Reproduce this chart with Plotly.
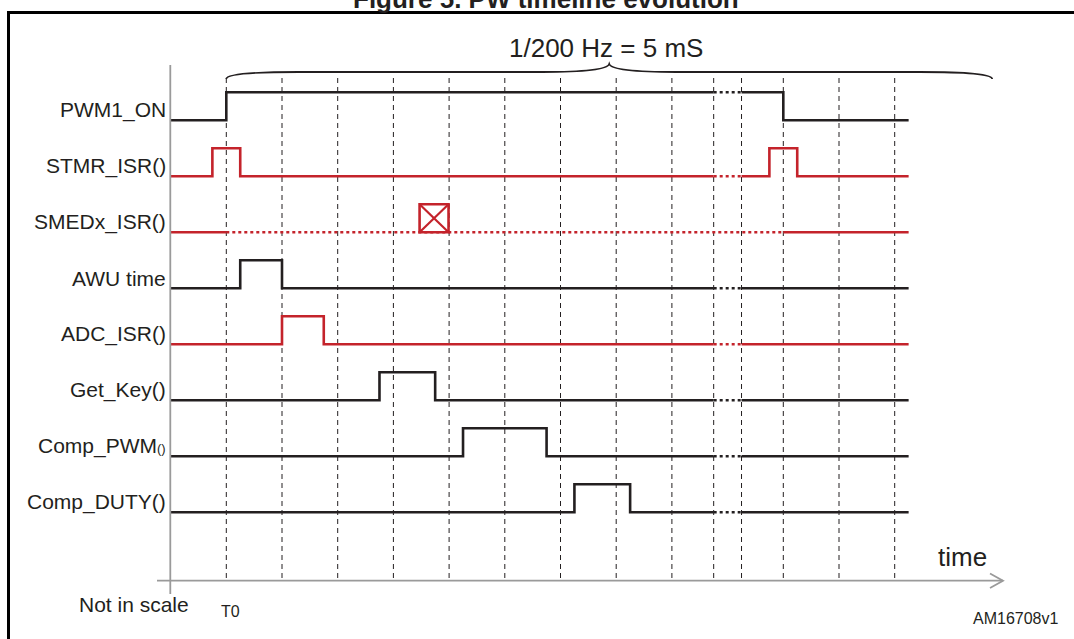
import plotly.graph_objects as go

# ---------------- data ----------------
signal_names = ["PWM1_ON", "STMR_ISR()", "SMEDx_ISR()", "AWU time",
                "ADC_ISR()", "Get_Key()", "Comp_PWM()", "Comp_DUTY()"]
signal_labels = ["PWM1_ON", "STMR_ISR()", "SMEDx_ISR()", "AWU time",
                 "ADC_ISR()", "Get_Key()",
                 "Comp_PWM<span style='font-size:13px'>()</span>", "Comp_DUTY()"]
signal_is_red = [False, True, True, False, True, False, False, False]
initial_level = [0, 0, 0, 0, 0, 0, 0, 0]

# edge times (units of one grid step, T0 = 0)
edges_pwm1 = [0, 10]
edges_stmr = [-0.25, 0.25, 9.75, 10.25]
edges_smed = []
edges_awu = [0.25, 1.0]
edges_adc = [1.0, 1.75]
edges_getkey = [2.75, 3.75]
edges_comppwm = [4.25, 5.75]
edges_compduty = [6.25, 7.25]
all_edges = [edges_pwm1, edges_stmr, edges_smed, edges_awu, edges_adc,
             edges_getkey, edges_comppwm, edges_compduty]

t_start = -1.0
t_end = 12.25
break_start, break_end = 8.75, 9.25          # "not in scale" dotted gap
smed_idle_start, smed_idle_end = 0.0, 10.0    # SMEDx dotted (waiting) span
smed_event_start, smed_event_end = 3.47, 3.99 # SMEDx interrupt marker

grid_times = [0, 1, 2, 3, 4, 5, 6, 7, 8, 8.75, 9.25, 10, 11, 12]
brace_start, brace_end = 0.0, 13.75

# ---------------- geometry / style ----------------
W, H = 1074, 639
PX_T0, PX_STEP = 226.3, 55.7
ROW0_PX, ROW_PX = 120.3, 56.0
HIGH = 0.5  # pulse height in row units

RED = "#c4232b"
BLACK = "#231f20"
GRAY = "#9a9a9a"
FONT = "Liberation Sans, Arial, Helvetica, sans-serif"

def xpx(p):  # pixel -> data x
    return (p - PX_T0) / PX_STEP

def ypx(p):  # pixel -> data y
    return (ROW0_PX - p) / ROW_PX

x_range = [xpx(0), xpx(W)]
y_range = [ypx(H), ypx(0)]

fig = go.Figure()

def level_at(edges, init, t):
    n = sum(1 for e in edges if e <= t)
    return (init + n) % 2

def seg_points(edges, init, a, b, base):
    xs = [a] + [e for e in edges if a < e < b] + [b]
    ys = [base + HIGH * level_at(edges, init, x) for x in xs]
    return xs, ys

LABEL_LIFT = 10 / ROW_PX

for i, (name, edges) in enumerate(zip(signal_names, all_edges)):
    base = -i
    color = RED if signal_is_red[i] else BLACK
    init = initial_level[i]
    if name.startswith("SMEDx"):
        solid = [(t_start, smed_idle_start), (smed_idle_end, t_end)]
        dotted = [(smed_idle_start, smed_idle_end)]
    else:
        solid = [(t_start, break_start), (break_end, t_end)]
        dotted = [(break_start, break_end)]
    for a, b in solid:
        xs, ys = seg_points(edges, init, a, b, base)
        fig.add_trace(go.Scatter(x=xs, y=ys, mode="lines", line_shape="hv",
                                 line=dict(color=color, width=2.6),
                                 hoverinfo="skip", showlegend=False))
    for a, b in dotted:
        xs, ys = seg_points(edges, init, a, b, base)
        fig.add_trace(go.Scatter(x=xs, y=ys, mode="lines", line_shape="hv",
                                 line=dict(color=color, width=2.6, dash="3px,3px"),
                                 hoverinfo="skip", showlegend=False))
    fig.add_annotation(x=xpx(168), y=base + LABEL_LIFT,
                       xref="x", yref="y", text=signal_labels[i], showarrow=False,
                       xanchor="right", yanchor="middle",
                       font=dict(family=FONT, size=21, color=BLACK))

shapes = []
# dashed grid lines
for g in grid_times:
    shapes.append(dict(type="line", xref="x", yref="y", x0=g, x1=g,
                       y0=ypx(78), y1=ypx(580),
                       line=dict(color=BLACK, width=1, dash="5px,4px"), layer="below"))

# SMEDx event box with cross
smed_base = -signal_names.index("SMEDx_ISR()")
bx0, bx1 = smed_event_start, smed_event_end
by0, by1 = smed_base, smed_base + HIGH
shapes.append(dict(type="rect", xref="x", yref="y", x0=bx0, x1=bx1, y0=by0, y1=by1,
                   line=dict(color=RED, width=2.6), fillcolor="white"))
shapes.append(dict(type="line", xref="x", yref="y", x0=bx0, x1=bx1, y0=by0, y1=by1,
                   line=dict(color=RED, width=2.2)))
shapes.append(dict(type="line", xref="x", yref="y", x0=bx0, x1=bx1, y0=by1, y1=by0,
                   line=dict(color=RED, width=2.2)))

# axes
shapes.append(dict(type="line", xref="x", yref="y", x0=xpx(170.3), x1=xpx(170.3),
                   y0=ypx(65), y1=ypx(594), line=dict(color=GRAY, width=1.8)))
shapes.append(dict(type="line", xref="x", yref="y", x0=xpx(157), x1=xpx(1003),
                   y0=ypx(580.7), y1=ypx(580.7), line=dict(color=GRAY, width=1.8)))
shapes.append(dict(type="path", xref="x", yref="y",
                   path=f"M {xpx(990)},{ypx(573.5)} L {xpx(1003)},{ypx(580.7)} L {xpx(990)},{ypx(588)}",
                   line=dict(color=GRAY, width=1.8)))

# brace
mid = (brace_start + brace_end) / 2
yb, yl, yt = ypx(79), ypx(72), ypx(64)
brace_path = (f"M {brace_start},{yb} Q {brace_start},{yl} {brace_start + 1.3},{yl} "
              f"L {mid - 1.2},{yl} Q {mid - 0.05},{yl} {mid},{yt} "
              f"Q {mid + 0.05},{yl} {mid + 1.2},{yl} "
              f"L {brace_end - 1.3},{yl} Q {brace_end},{yl} {brace_end},{yb}")
shapes.append(dict(type="path", xref="x", yref="y", path=brace_path,
                   line=dict(color=BLACK, width=1.8)))

# frame (right edge lies just outside the visible page)
shapes.append(dict(type="path", xref="paper", yref="paper",
                   path=f"M {8.5/W},{-0.1} L {8.5/W},{1 - 12.5/H} L {1080/W},{1 - 12.5/H}",
                   line=dict(color="black", width=3)))

fig.update_layout(shapes=shapes)

def add_text(px, py, text, size, xanchor="center", bold=False):
    fig.add_annotation(x=px / W, y=1 - py / H, xref="paper", yref="paper",
                       text=f"<b>{text}</b>" if bold else text,
                       showarrow=False, xanchor=xanchor, yanchor="middle",
                       font=dict(family=FONT, size=size, color=BLACK))

add_text(606, 48, "1/200 Hz = 5 mS", 26)
add_text(962, 557, "time", 26)
add_text(77, 604, "Not in scale", 21, xanchor="left")
add_text(230, 611, "T0", 16)
add_text(1015, 618, "AM16708v1", 16)
add_text(546, -1, "Figure 5. PW timeline evolution", 26, bold=True)

fig.update_layout(
    width=W, height=H, margin=dict(l=0, r=0, t=0, b=0),
    paper_bgcolor="white", plot_bgcolor="white", showlegend=False,
    xaxis=dict(range=x_range, visible=False, fixedrange=True),
    yaxis=dict(range=y_range, visible=False, fixedrange=True),
)

fig.write_html("out.html", config={"displayModeBar": False},
               post_script="document.body.style.margin='0px';document.body.style.overflow='hidden';")
